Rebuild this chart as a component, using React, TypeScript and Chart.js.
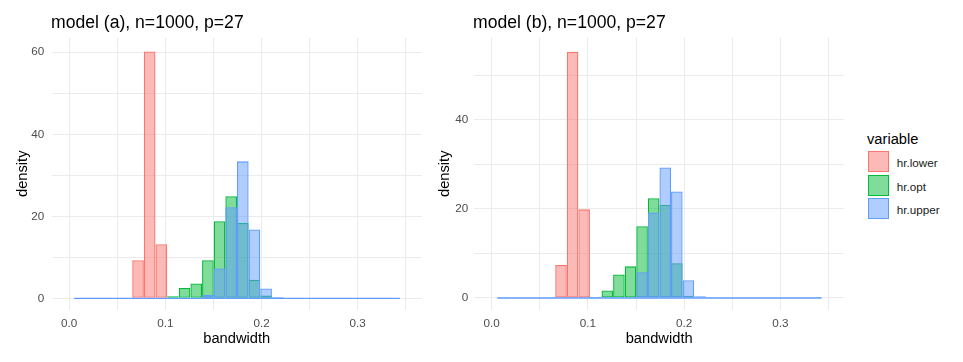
import React, { useEffect, useRef } from "react";
import { Chart, registerables } from "chart.js";

Chart.register(...registerables);

// ---------- data ----------
const SERIES_NAMES = ["hr.lower", "hr.opt", "hr.upper"];
const BORDER_COLORS = ["#F8766D", "#00BA38", "#619CFF"];
const FILL_COLORS = ["rgba(248,118,109,0.5)", "rgba(0,186,56,0.5)", "rgba(97,156,255,0.5)"];

const PANEL_TITLES = ["model (a), n=1000, p=27", "model (b), n=1000, p=27"];
const X_TITLE = "bandwidth";
const Y_TITLE = "density";
const LEGEND_TITLE = "variable";

const BIN_COUNT = 28;
const BIN_START_A = 0.0051;
const BIN_WIDTH_A = 0.0121;
const BIN_START_B = 0.0059;
const BIN_WIDTH_B = 0.01203;

// densities per bin (28 bins), model (a)
const lowerA = [0, 0, 0, 0, 0, 9.3, 60.2, 13.2, 0, 0, 0, 0, 0, 0, 0, 0, 0, 0, 0, 0, 0, 0, 0, 0, 0, 0, 0, 0];
const optA = [0, 0, 0, 0, 0, 0, 0, 0, 0.5, 2.5, 3.6, 9.3, 18.8, 24.9, 18.4, 4.5, 0.7, 0, 0, 0, 0, 0, 0, 0, 0, 0, 0, 0];
const upperA = [0, 0, 0, 0, 0, 0, 0, 0, 0, 0, 0, 0.8, 7.3, 22.2, 33.4, 16.8, 2.4, 0.3, 0, 0, 0, 0, 0, 0, 0, 0, 0, 0];

// densities per bin (28 bins), model (b)
const lowerB = [0, 0, 0, 0, 0, 7.4, 55.3, 19.9, 0, 0, 0, 0, 0, 0, 0, 0, 0, 0, 0, 0, 0, 0, 0, 0, 0, 0, 0, 0];
const optB = [0, 0, 0, 0, 0, 0, 0, 0, 0.2, 1.7, 5.3, 7.1, 16.1, 22.4, 20.9, 7.8, 0.5, 0, 0, 0, 0, 0, 0, 0, 0, 0, 0, 0];
const upperB = [0, 0, 0, 0, 0, 0, 0, 0, 0, 0, 0, 0, 5.8, 19.2, 29.3, 23.9, 4.0, 0.4, 0, 0, 0, 0, 0, 0, 0, 0, 0, 0];

const X_TICK_STEP = 0.05;
const Y_TICK_STEP = 10;

// ---------- layout ----------
const FONT = "'Liberation Sans', Arial, Helvetica, sans-serif";
const CANVAS_H = 362;
const PLOT_TOP = 37.5;
const PLOT_BOTTOM = 310;

type PanelCfg = {
  left: number;
  width: number;
  yAxisWidth: number;
  yTickPad: number;
  yTitlePad: number;
  padRight: number;
  xMin: number;
  xMax: number;
  yMin: number;
  yMax: number;
  binStart: number;
  binWidth: number;
  series: number[][];
  titleLeft: number;
  title: string;
};

const PANELS: PanelCfg[] = [
  {
    left: 0, width: 430, yAxisWidth: 51.7, yTickPad: 7.5, yTitlePad: 14.5, padRight: 8.3,
    xMin: -0.0181, xMax: 0.3665, yMin: -2.85, yMax: 63.6,
    binStart: BIN_START_A, binWidth: BIN_WIDTH_A, series: [lowerA, optA, upperA],
    titleLeft: 51, title: PANEL_TITLES[0],
  },
  {
    left: 430, width: 420, yAxisWidth: 44, yTickPad: 5.8, yTitlePad: 6.2, padRight: 5.7,
    xMin: -0.0183, xMax: 0.3663, yMin: -2.7, yMax: 58.5,
    binStart: BIN_START_B, binWidth: BIN_WIDTH_B, series: [lowerB, optB, upperB],
    titleLeft: 473, title: PANEL_TITLES[1],
  },
];

function Panel({ cfg }: { cfg: PanelCfg }) {
  const ref = useRef<HTMLCanvasElement | null>(null);
  useEffect(() => {
    if (!ref.current) return;
    const centers = Array.from({ length: BIN_COUNT }, (_, i) => cfg.binStart + (i + 0.5) * cfg.binWidth);
    const barSets: any[] = cfg.series.map((vals, si) => ({
      type: "bar",
      label: SERIES_NAMES[si],
      data: vals.map((v, i) => ({ x: centers[i], y: v })),
      backgroundColor: FILL_COLORS[si],
      borderColor: BORDER_COLORS[si],
      borderWidth: 1.3,
      borderSkipped: false,
      inflateAmount: 0,
      grouped: false,
      barPercentage: 1,
      categoryPercentage: 1,
      order: 3 - si,
    }));
    const baseline: any = {
      type: "line",
      label: "baseline",
      data: [
        { x: cfg.binStart, y: 0 },
        { x: cfg.binStart + BIN_COUNT * cfg.binWidth, y: 0 },
      ],
      borderColor: BORDER_COLORS[2],
      borderWidth: 1.3,
      pointRadius: 0,
      fill: false,
      order: 0,
    };
    const tickFont = { family: FONT, size: 11.7 };
    const titleFont = { family: FONT, size: 14.7 };
    const chart = new Chart(ref.current, {
      type: "bar",
      data: { datasets: [...barSets, baseline] },
      options: {
        animation: false,
        responsive: false,
        devicePixelRatio: 1,
        layout: { padding: { top: PLOT_TOP, right: cfg.padRight, bottom: 0, left: 0 } },
        plugins: { legend: { display: false }, tooltip: { enabled: false }, title: { display: false } },
        scales: {
          x: {
            type: "linear",
            offset: false,
            min: cfg.xMin,
            max: cfg.xMax,
            border: { display: false },
            grid: { color: "#EBEBEB", lineWidth: 1, drawTicks: false, offset: false },
            ticks: {
              stepSize: X_TICK_STEP,
              includeBounds: false,
              autoSkip: false,
              maxRotation: 0,
              padding: 6.3,
              color: "#4D4D4D",
              font: tickFont,
              callback: (v: any) => (Math.round(Number(v) * 100) % 10 === 0 ? Number(v).toFixed(1) : ""),
            },
            title: { display: true, text: X_TITLE, color: "#000000", font: titleFont, padding: { top: 0, bottom: 13.9 } },
            afterFit: (s: any) => {
              s.height = CANVAS_H - PLOT_BOTTOM;
            },
          },
          y: {
            type: "linear",
            min: cfg.yMin,
            max: cfg.yMax,
            border: { display: false },
            grid: { color: "#EBEBEB", lineWidth: 1, drawTicks: false },
            ticks: {
              stepSize: Y_TICK_STEP,
              includeBounds: false,
              autoSkip: false,
              padding: cfg.yTickPad,
              color: "#4D4D4D",
              font: tickFont,
              callback: (v: any) => (Math.round(Number(v)) % 20 === 0 ? String(Math.round(Number(v))) : ""),
            },
            title: { display: true, text: Y_TITLE, color: "#000000", font: titleFont, padding: { top: cfg.yTitlePad, bottom: 0 } },
            afterFit: (s: any) => {
              s.width = cfg.yAxisWidth;
            },
          },
        },
      } as any,
    });
    return () => chart.destroy();
  }, [cfg]);
  return (
    <>
      <canvas
        ref={ref}
        width={cfg.width}
        height={CANVAS_H}
        style={{ position: "absolute", left: cfg.left, top: 0, width: cfg.width, height: CANVAS_H, display: "block" }}
      />
      <div
        style={{
          position: "absolute",
          left: cfg.titleLeft,
          top: 13.6,
          fontFamily: FONT,
          fontSize: 17.6,
          lineHeight: "17.6px",
          color: "#000",
          whiteSpace: "nowrap",
        }}
      >
        {cfg.title}
      </div>
    </>
  );
}

function Legend() {
  const boxTops = [151, 174.6, 198.2];
  return (
    <>
      <div
        style={{
          position: "absolute",
          left: 867,
          top: 128.9,
          fontFamily: FONT,
          fontSize: 14.7,
          lineHeight: "20px",
          color: "#000",
          whiteSpace: "nowrap",
        }}
      >
        {LEGEND_TITLE}
      </div>
      {SERIES_NAMES.map((name, i) => (
        <React.Fragment key={name}>
          <div
            style={{
              position: "absolute",
              left: 868.3,
              top: boxTops[i],
              width: 21,
              height: 21,
              boxSizing: "border-box",
              border: `1px solid ${BORDER_COLORS[i]}`,
              background: FILL_COLORS[i],
            }}
          />
          <div
            style={{
              position: "absolute",
              left: 896.7,
              top: boxTops[i] + 5,
              fontFamily: FONT,
              fontSize: 11.7,
              lineHeight: "14px",
              color: "#1A1A1A",
              whiteSpace: "nowrap",
            }}
          >
            {name}
          </div>
        </React.Fragment>
      ))}
    </>
  );
}

export default function App() {
  return (
    <div style={{ position: "absolute", left: 0, top: 0, width: 963, height: 362, background: "#FFFFFF", overflow: "hidden" }}>
      {PANELS.map((p, i) => (
        <Panel key={i} cfg={p} />
      ))}
      <Legend />
    </div>
  );
}
